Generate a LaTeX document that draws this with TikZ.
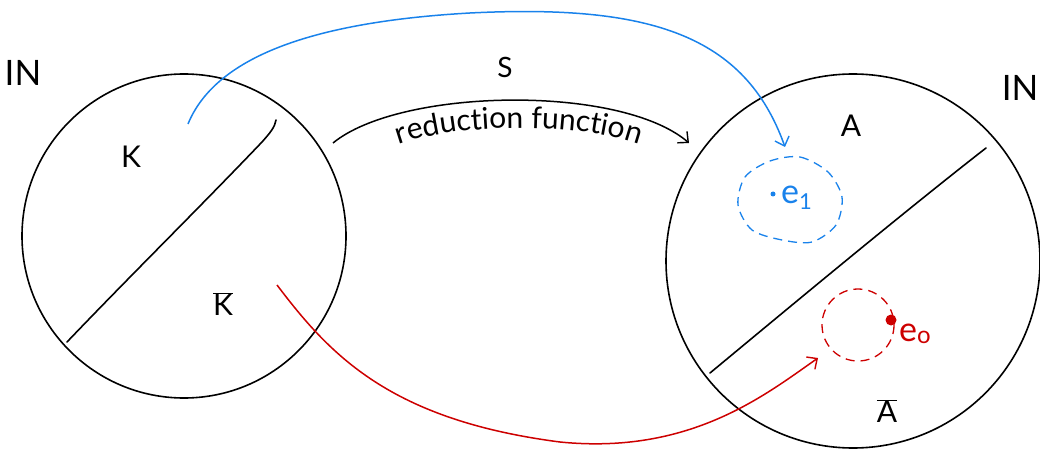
\documentclass[tikz,border=0pt]{standalone}
\usepackage{fontspec}
\setmainfont{Lato}
\usetikzlibrary{arrows.meta,decorations.text}
\definecolor{hblue}{RGB}{25,130,235}
\definecolor{hred}{RGB}{205,0,0}
\tikzset{
  setcircle/.style={circle, draw=black, line width=1.6pt, inner sep=0pt},
  divider/.style={draw=black, line width=1.6pt, line cap=round},
  lbl/.style={inner sep=0pt, font=\fontsize{30}{32}\selectfont},
  bigN/.style={inner sep=0pt, font=\fontsize{35}{37}\selectfont},
  barb/.style={-{Straight Barb[length=8pt,width=15pt,line width=1.4pt]}},
  bluearr/.style={draw=hblue, line width=1.5pt, barb},
  redarr/.style={draw=hred, line width=1.5pt, barb},
  blackarr/.style={draw=black, line width=1.5pt, barb},
  eblob/.style={dashed, dash pattern=on 9pt off 6pt, line width=1.3pt},
}
\begin{document}
\begin{tikzpicture}[x=1pt,y=-1pt]
\useasboundingbox (0,0) rectangle (1040,454);
% sets
\node[setcircle, minimum size=324pt] (L) at (184,236) {};
\node[setcircle, minimum size=374pt] (R) at (853,261) {};
\node[bigN] (NL) at (23,73) {IN};
\node[bigN] (NR) at (1020,88) {IN};
% dividers
\coordinate (l1) at (67,342);
\coordinate (l2) at (276,120);
\draw[divider] (l1) .. controls (130,276) and (200,207) .. (262,142) .. controls (270,133) and (275,127) .. (l2);
\coordinate (r1) at (710,373);
\coordinate (r2) at (986,148);
\draw[divider] (r1) .. controls (780,315) and (900,215) .. (r2);
% labels
\node[lbl] (K) at (131,157) {K};
\node[lbl] (Kb) at (223,304) {$\overline{\mbox{K}}$};
\node[lbl] (A) at (851,126) {A};
\node[lbl] (Ab) at (887,411) {$\overline{\mbox{A}}$};
% reduction arrow
\coordinate (s1) at (333,143);
\coordinate (s2) at (689,143);
\draw[blackarr] (s1) .. controls (400,88) and (620,84) .. (s2);
\node[inner sep=0pt, font=\fontsize{28}{30}\selectfont] (S) at (505,67) {S};
\coordinate (t1) at (381,152);
\coordinate (t2) at (657,152);
\path[decorate, decoration={text along path, text align=center, text format delimiters={|}{|},
  text={|\fontsize{30}{32}\selectfont|reduction function}}] (t1) .. controls (440,120) and (600,120) .. (t2);
% e1 region
\draw[hblue, eblob] plot[smooth cycle] coordinates {(770,161) (800,157) (828,172) (842,197) (836,225) (812,242) (782,240) (752,230) (738,205) (745,177)};
\node[circle, fill=hblue, inner sep=0pt, minimum size=5pt] (d1) at (773,194) {};
\node[lbl, text=hblue, font=\fontsize{34}{36}\selectfont, anchor=west] (e1) at (781,198) {e\raisebox{-0.35ex}{\fontsize{22}{24}\selectfont 1}};
% e0 region
\draw[hred, eblob] (858,325) circle[radius=36];
\node[circle, fill=hred, inner sep=0pt, minimum size=11pt] (d0) at (891,320) {};
\node[lbl, text=hred, font=\fontsize{34}{36}\selectfont, anchor=west] (e0) at (899,334) {e\raisebox{-0.1ex}{\fontsize{24}{26}\selectfont o}};
% mappings
\coordinate (bs) at (188,124);
\coordinate (bt) at (785,147);
\draw[bluearr] (bs) .. controls (215,58) and (310,22) .. (470,13) .. controls (650,4) and (745,35) .. (bt);
\coordinate (rs) at (277,285);
\coordinate (rt) at (818,358);
\draw[redarr] (rs) .. controls (330,355) and (390,420) .. (560,442) .. controls (690,455) and (765,395) .. (rt);
\end{tikzpicture}
\end{document}
